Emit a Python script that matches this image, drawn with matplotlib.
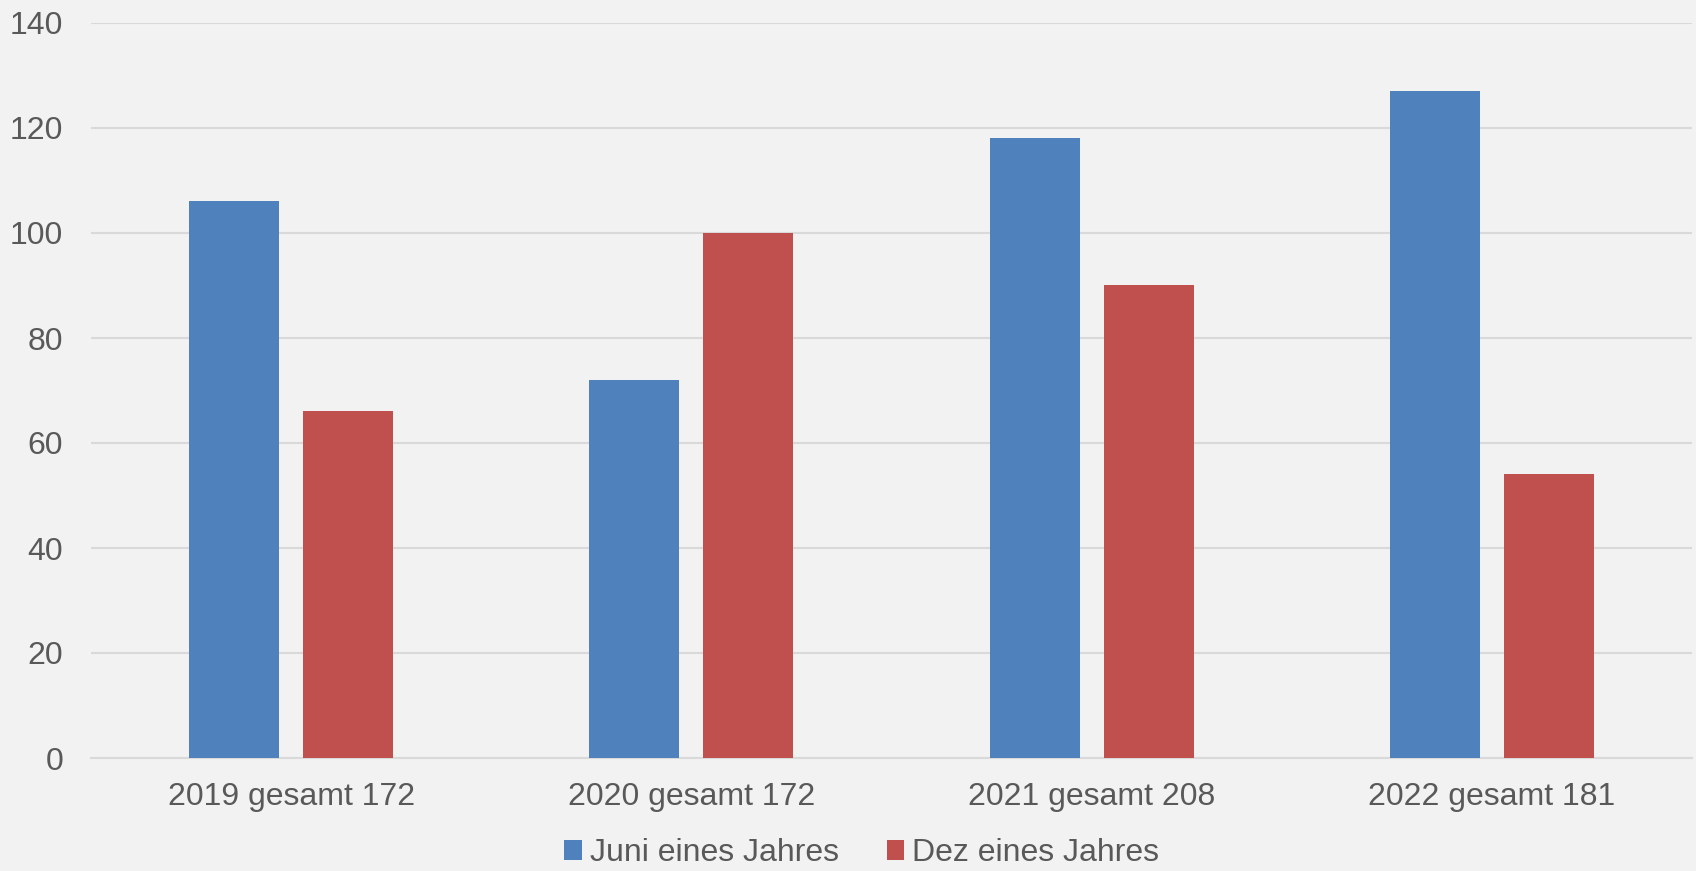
import numpy as np
import matplotlib.pyplot as plt
from matplotlib.patches import Patch

categories = ["2019 gesamt 172", "2020 gesamt 172", "2021 gesamt 208", "2022 gesamt 181"]
juni = [106, 72, 118, 127]
dez = [66, 100, 90, 54]
series_labels = ["Juni eines Jahres", "Dez eines Jahres"]

BG = "#F2F2F2"
BLUE = "#4F81BD"
RED = "#C0504D"
GRID = "#D9D9D9"
TEXT = "#595959"

plt.rcParams["font.family"] = ["Liberation Sans", "DejaVu Sans"]

fig = plt.figure(figsize=(16.96, 8.71), dpi=100, facecolor=BG)
ax = fig.add_axes([91 / 1696, 113 / 871, 1601 / 1696, 735 / 871])
ax.set_facecolor(BG)

x = np.arange(len(categories))
w = 0.225
off = 0.1425
ax.bar(x - off, juni, w, color=BLUE, zorder=3)
ax.bar(x + off, dez, w, color=RED, zorder=3)

ax.set_xlim(-0.5, len(categories) - 0.5)
ax.set_ylim(0, 140)
ax.set_yticks(np.arange(0, 141, 20))
ax.yaxis.grid(True, color=GRID, linewidth=1.5, zorder=0)
ax.set_axisbelow(True)
for s in ["top", "right", "left"]:
    ax.spines[s].set_visible(False)
ax.spines["bottom"].set_color(GRID)
ax.spines["bottom"].set_linewidth(1.5)

ax.set_xticks(x)
ax.set_xticklabels(categories)
ax.tick_params(axis="both", length=0, labelsize=23, labelcolor=TEXT)
ax.tick_params(axis="y", pad=20)
ax.tick_params(axis="x", pad=17)

handles = [Patch(facecolor=BLUE, label=series_labels[0]),
           Patch(facecolor=RED, label=series_labels[1])]
fig.legend(handles=handles, loc="center", bbox_to_anchor=(0.508, 18 / 871),
           ncol=2, frameon=False, handlelength=0.55, handleheight=0.6,
           handletextpad=0.25, columnspacing=1.5, borderaxespad=0,
           prop={"size": 23}, labelcolor=TEXT)

fig.savefig("out.png", dpi=100, facecolor=BG)
